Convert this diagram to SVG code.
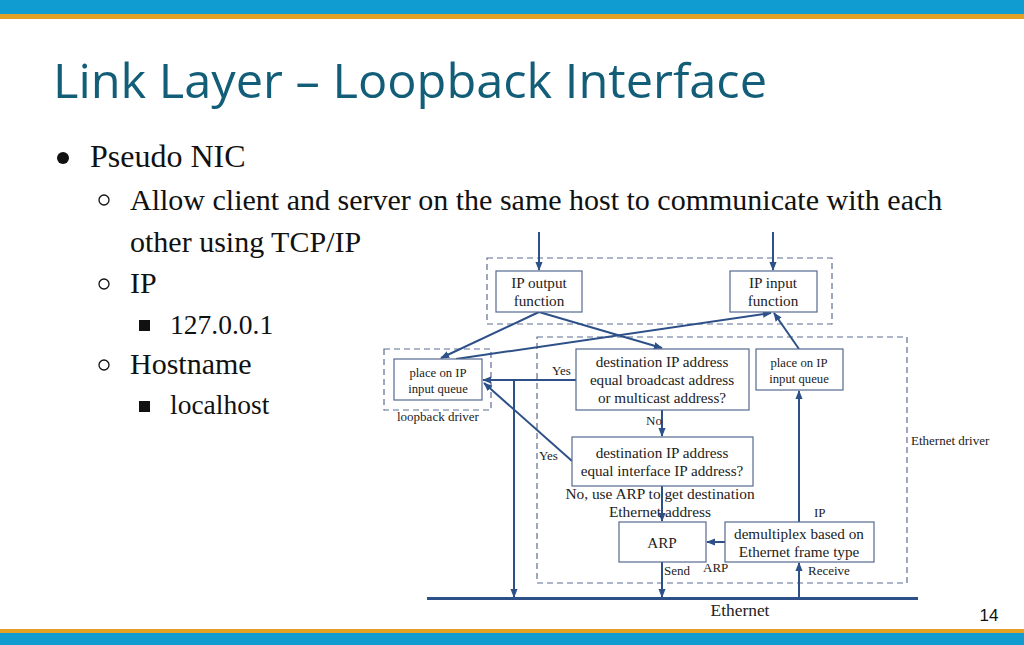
<svg xmlns="http://www.w3.org/2000/svg" width="1024" height="645" viewBox="0 0 1024 645">
<defs>
<style>
.title{font-family:"Open Sans","Noto Sans",sans-serif;font-size:48px;fill:#125e78}
.b1{font-family:"Liberation Serif",serif;font-size:32px;fill:#111}
.body{font-family:"Liberation Serif",serif;font-size:30px;fill:#111}
.b3{font-family:"Liberation Serif",serif;font-size:27.5px;fill:#111}
.bt{font-family:"Liberation Serif",serif;font-size:15.2px;fill:#222;text-anchor:middle}
.sm{font-family:"Liberation Serif",serif;font-size:12.7px;fill:#222;text-anchor:middle}
.lbl{font-family:"Liberation Serif",serif;font-size:13px;fill:#222}
.lbl13{font-family:"Liberation Serif",serif;font-size:15.4px;fill:#222;text-anchor:middle}
.box{fill:#fff;stroke:#56698f;stroke-width:1.2}
.dash{fill:none;stroke:#5d6d92;stroke-width:1.2;stroke-dasharray:6 4}
.ln{fill:none;stroke:#2d5088;stroke-width:2}
</style>
<marker id="ah2" viewBox="0 0 10 10" refX="9" refY="5" markerWidth="9" markerHeight="9" orient="auto" markerUnits="userSpaceOnUse">
<path d="M0,1 L10,5 L0,9 z" fill="#2d5088"/>
</marker>
</defs>
<rect x="0" y="0" width="1024" height="645" fill="#fff"/>
<rect x="0" y="0" width="1024" height="14" fill="#109bd1"/>
<rect x="0" y="14" width="1024" height="5" fill="#e3a126"/>
<rect x="0" y="629" width="1024" height="4" fill="#e3a126"/>
<rect x="0" y="633" width="1024" height="12" fill="#109bd1"/>

<g id="title"><text class="title" x="53" y="98" textLength="714" lengthAdjust="spacingAndGlyphs">Link Layer – Loopback Interface</text></g>
<g id="bullets">
<circle cx="63" cy="158" r="6" fill="#111"/>
<text class="b1" x="90" y="167">Pseudo NIC</text>
<circle cx="104" cy="200" r="5" fill="none" stroke="#111" stroke-width="1.3"/>
<text class="body" x="130" y="210">Allow client and server on the same host to communicate with each</text>
<text class="body" x="130" y="252">other using TCP/IP</text>
<circle cx="104" cy="284" r="5" fill="none" stroke="#111" stroke-width="1.3"/>
<text class="body" x="130" y="293">IP</text>
<rect x="139" y="320" width="11" height="11" fill="#111"/>
<text class="b3" x="170" y="334">127.0.0.1</text>
<circle cx="104" cy="365" r="5" fill="none" stroke="#111" stroke-width="1.3"/>
<text class="body" x="130" y="374">Hostname</text>
<rect x="139" y="401" width="11" height="11" fill="#111"/>
<text class="b3" x="170" y="414">localhost</text>
</g>

<g id="groups">
<rect class="dash" x="487" y="258" width="345" height="66"/>
<rect class="dash" x="384" y="349" width="107" height="61"/>
<rect class="dash" x="537" y="337" width="370" height="246"/>
<text class="lbl" x="397" y="421">loopback driver</text>
<text class="lbl" x="911" y="445">Ethernet driver</text>
</g>

<g id="connectors">
<line class="ln" x1="539" y1="232" x2="539" y2="270" marker-end="url(#ah2)"/>
<line class="ln" x1="773" y1="232" x2="773" y2="270" marker-end="url(#ah2)"/>
<line class="ln" x1="539" y1="312" x2="441" y2="358" marker-end="url(#ah2)"/>
<line class="ln" x1="539" y1="312" x2="662" y2="348" marker-end="url(#ah2)"/>
<line class="ln" x1="456" y1="359" x2="771" y2="313" marker-end="url(#ah2)"/>
<line class="ln" x1="799" y1="349" x2="774" y2="313" marker-end="url(#ah2)"/>
<line class="ln" x1="576" y1="380" x2="483" y2="380" marker-end="url(#ah2)"/>
<line class="ln" x1="514" y1="380" x2="514" y2="597" marker-end="url(#ah2)"/>
<line class="ln" x1="572" y1="461" x2="484" y2="383" marker-end="url(#ah2)"/>
<line class="ln" x1="662" y1="410" x2="662" y2="436" marker-end="url(#ah2)"/>
<line class="ln" x1="662" y1="486" x2="662" y2="521" marker-end="url(#ah2)"/>
<line class="ln" x1="662" y1="562" x2="662" y2="597" marker-end="url(#ah2)"/>
<line class="ln" x1="725" y1="542" x2="707" y2="542" marker-end="url(#ah2)"/>
<line class="ln" x1="799" y1="522" x2="799" y2="391" marker-end="url(#ah2)"/>
<line class="ln" x1="799" y1="598" x2="799" y2="563" marker-end="url(#ah2)"/>
<line x1="427" y1="598.5" x2="918" y2="598.5" stroke="#2d5088" stroke-width="3"/>
<text class="lbl" x="552" y="375">Yes</text>
<text class="lbl" x="646" y="425">No</text>
<text class="lbl" x="539" y="460">Yes</text>
<text class="lbl13" x="660" y="499">No, use ARP to get destination</text>
<text class="lbl13" x="660" y="517">Ethernet address</text>
<text class="lbl" x="814" y="517">IP</text>
<text class="lbl" x="664" y="575">Send</text>
<text class="lbl" x="703" y="572">ARP</text>
<text class="lbl" x="808" y="575">Receive</text>
<text class="bt" x="740" y="616" style="font-size:17.4px">Ethernet</text>
</g>

<g id="ip-output"><rect class="box" x="496" y="271" width="86" height="41"/>
<text class="bt" x="539" y="288">IP output</text><text class="bt" x="539" y="306">function</text></g>
<g id="ip-input"><rect class="box" x="730" y="271" width="87" height="41"/>
<text class="bt" x="773" y="288">IP input</text><text class="bt" x="773" y="306">function</text></g>
<g id="loop-queue"><rect class="box" x="394" y="359" width="88" height="41"/>
<text class="sm" x="438" y="377">place on IP</text><text class="sm" x="438" y="393">input queue</text></g>
<g id="dest-bcast"><rect class="box" x="576" y="349" width="173" height="61"/>
<text class="bt" x="662" y="367">destination IP address</text><text class="bt" x="662" y="385">equal broadcast address</text><text class="bt" x="662" y="403">or multicast address?</text></g>
<g id="eth-queue"><rect class="box" x="756" y="349" width="87" height="41"/>
<text class="sm" x="799" y="367">place on IP</text><text class="sm" x="799" y="383">input queue</text></g>
<g id="dest-if"><rect class="box" x="572" y="437" width="181" height="49"/>
<text class="bt" x="662" y="458">destination IP address</text><text class="bt" x="662" y="476">equal interface IP address?</text></g>
<g id="arp"><rect class="box" x="619" y="522" width="87" height="40"/>
<text class="bt" x="662" y="548">ARP</text></g>
<g id="demux"><rect class="box" x="725" y="522" width="149" height="40"/>
<text class="bt" x="799" y="539">demultiplex based on</text><text class="bt" x="799" y="557">Ethernet frame type</text></g>

<g id="page"><text x="989" y="621" style="font-family:'Liberation Sans',sans-serif;font-size:17px;fill:#111;text-anchor:middle">14</text></g>
</svg>
